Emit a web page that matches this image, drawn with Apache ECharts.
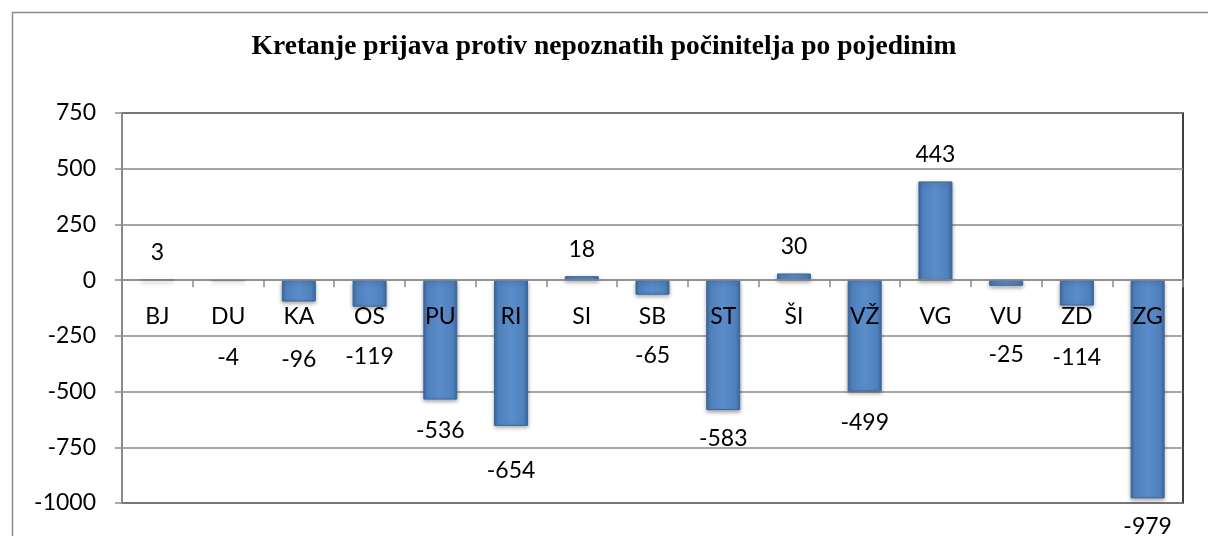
<!DOCTYPE html>
<html>
<head>
<meta charset="utf-8">
<script src="https://cdn.jsdelivr.net/npm/echarts@6/dist/echarts.min.js"></script>
<style>
  html, body { margin: 0; padding: 0; background: #fff; }
  #chart { width: 1208px; height: 536px; }
</style>
</head>
<body>
<div id="chart"></div>
<script>
const TITLE = 'Kretanje prijava protiv nepoznatih počinitelja po pojedinim'
const categories = ['BJ', 'DU', 'KA', 'OS', 'PU', 'RI', 'SI', 'SB', 'ST', 'ŠI', 'VŽ', 'VG', 'VU', 'ZD', 'ZG']
const values = [3, -4, -96, -119, -536, -654, 18, -65, -583, 30, -499, 443, -25, -114, -979]
// extra downward shift of a few value labels, as placed in the original
const labelNudge = [0, 48, 30, 21, 2, 16, 0, 32, 0, 0, 3, 0, 40, 24, 0]
const yTicks = { min: -1000, max: 750, step: 250 }

const FONT = 'Lato, "Open Sans", sans-serif'
const GREY = '#8a8a8a'
const GRID = { left: 122, right: 25, top: 113, bottom: 33 }
const PLOT_H = 536 - GRID.top - GRID.bottom
// category axis sits on the zero line
const zeroOffset = -PLOT_H * (0 - yTicks.min) / (yTicks.max - yTicks.min)

const BAR_FILL = new echarts.graphic.LinearGradient(0, 0, 1, 0, [
  { offset: 0, color: '#3d6aa3' },
  { offset: 0.12, color: '#4f81bd' },
  { offset: 0.5, color: '#5a8cca' },
  { offset: 0.88, color: '#4f81bd' },
  { offset: 1, color: '#3d6aa3' },
])

const chart = echarts.init(document.getElementById('chart'), null, { renderer: 'canvas' })

chart.setOption({
  animation: false,
  title: {
    text: TITLE,
    left: 'center',
    top: 28,
    textStyle: { fontFamily: '"Liberation Serif", "Times New Roman", serif', fontWeight: 'bold', fontSize: 27.5, color: '#000' },
  },
  graphic: [{
    type: 'rect',
    shape: { x: 12.5, y: 12.5, width: 1210, height: 540 },
    style: { fill: 'none', stroke: GREY, lineWidth: 1.5 },
    silent: true,
  }],
  grid: {
    ...GRID,
    show: true, borderColor: '#000', borderWidth: 1.5, backgroundColor: 'transparent',
  },
  xAxis: {
    type: 'category',
    data: categories,
    z: 5,
    position: 'bottom',
    offset: zeroOffset,
    axisLine: { onZero: false, lineStyle: { color: GREY, width: 1.5 } },
    axisTick: { show: true, length: 7, lineStyle: { color: GREY, width: 1.5 } },
    axisLabel: { color: '#000', fontFamily: FONT, fontSize: 23, margin: 25 },
  },
  yAxis: {
    type: 'value',
    min: yTicks.min,
    max: yTicks.max,
    interval: yTicks.step,
    axisLine: { show: true, lineStyle: { color: GREY, width: 2 } },
    axisTick: { show: true, length: 7, lineStyle: { color: GREY, width: 1.5 } },
    axisLabel: { color: '#000', fontFamily: FONT, fontSize: 23, margin: 26, formatter: v => String(v) },
    splitLine: { lineStyle: { color: GREY, width: 1.5 } },
  },
  series: [{
    type: 'bar',
    barWidth: 34,
    data: values.map((v, i) => ({
      value: v,
      label: {
        position: v >= 0 ? 'top' : 'bottom',
        distance: v >= 0 ? 15 : 17,
        offset: [0, labelNudge[i]],
      },
    })),
    itemStyle: {
      color: BAR_FILL,
      borderColor: '#3a679c',
      borderWidth: 1,
      shadowColor: 'rgba(0,0,0,0.35)',
      shadowBlur: 4,
      shadowOffsetY: 2,
    },
    label: { show: true, color: '#000', fontFamily: FONT, fontSize: 23 },
  }],
})
</script>
</body>
</html>
